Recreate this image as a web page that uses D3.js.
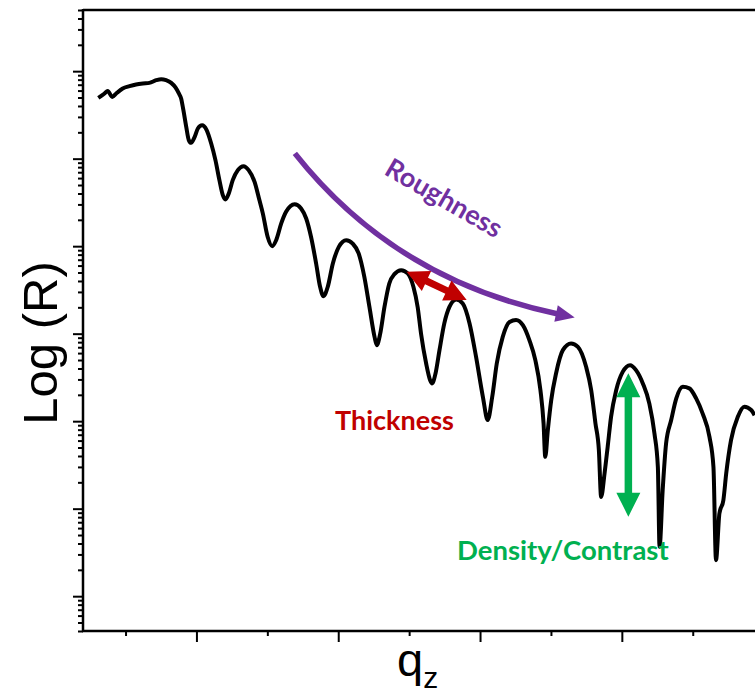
<!DOCTYPE html>
<html>
<head>
<meta charset="utf-8">
<script src="https://cdn.jsdelivr.net/npm/d3@7"></script>
<style>
  body { margin: 0; background: #fff; }
  svg { display: block; }
</style>
</head>
<body>
<div class="main_content"></div>
<script>
// reflectivity curve
const qValues = [
  0.0154, 0.0176, 0.0187, 0.0203, 0.0217, 0.0240, 0.0264, 0.0287, 0.0311, 0.0334,
  0.0358, 0.0376, 0.0393, 0.0411, 0.0426, 0.0438, 0.0446, 0.0454, 0.0464, 0.0473,
  0.0481, 0.0493, 0.0505, 0.0520, 0.0536, 0.0552, 0.0567, 0.0581, 0.0593, 0.0602,
  0.0614, 0.0628, 0.0646, 0.0666, 0.0684, 0.0705, 0.0722, 0.0734, 0.0751, 0.0767,
  0.0781, 0.0799, 0.0816, 0.0846, 0.0869, 0.0887, 0.0904, 0.0922, 0.0936, 0.0948,
  0.0963, 0.0981, 0.1002, 0.1028, 0.1051, 0.1072, 0.1092, 0.1110, 0.1128, 0.1136,
  0.1148, 0.1163, 0.1180, 0.1198, 0.1222, 0.1245, 0.1265, 0.1280, 0.1292, 0.1310,
  0.1324, 0.1331, 0.1343, 0.1357, 0.1374, 0.1392, 0.1416, 0.1439, 0.1463, 0.1486,
  0.1510, 0.1527, 0.1543, 0.1559, 0.1580, 0.1604, 0.1627, 0.1651, 0.1674, 0.1695,
  0.1713, 0.1724, 0.1730, 0.1739, 0.1751, 0.1768, 0.1792, 0.1821, 0.1845, 0.1874,
  0.1892, 0.1907, 0.1919, 0.1927, 0.1939, 0.1950, 0.1962, 0.1980, 0.2003, 0.2029,
  0.2050, 0.2074, 0.2097, 0.2115, 0.2127, 0.2133, 0.2144, 0.2156, 0.2174, 0.2192,
  0.2215, 0.2238, 0.2262, 0.2285, 0.2309, 0.2323, 0.2332, 0.2344, 0.2358, 0.2368,
  0.2385, 0.2409, 0.2432, 0.2456, 0.2468
];
const reflectivity = [
  0.495, 0.556, 0.594, 0.508, 0.556, 0.634, 0.674, 0.705, 0.724, 0.735,
  0.789, 0.810, 0.789, 0.735, 0.651, 0.556, 0.488, 0.358, 0.231, 0.163,
  0.152, 0.175, 0.221, 0.241, 0.212, 0.149, 0.0961, 0.0568, 0.0383, 0.0342,
  0.0400, 0.0568, 0.0739, 0.0820, 0.0739, 0.0543, 0.0336, 0.0237, 0.0128, 0.0100,
  0.0117, 0.0182, 0.0247, 0.0302, 0.0270, 0.0207, 0.0128, 0.00634, 0.00343, 0.00268,
  0.00343, 0.00634, 0.00982, 0.0117, 0.0107, 0.00826, 0.00446, 0.00202, 0.000919, 0.000739,
  0.00100, 0.00202, 0.00375, 0.00479, 0.00532, 0.00488, 0.00343, 0.00202, 0.00100, 0.000456,
  0.000294, 0.000270, 0.000351, 0.000648, 0.00131, 0.00202, 0.00246, 0.00221, 0.00131, 0.000543,
  0.000190, 0.000103, 0.000190, 0.000456, 0.000919, 0.00136, 0.00143, 0.00125, 0.000843, 0.000498,
  0.000226, 0.0000942, 0.0000391, 0.0000789, 0.000174, 0.000351, 0.000648, 0.000773, 0.000707, 0.000418,
  0.000226, 0.0000942, 0.0000467, 0.0000136, 0.0000252, 0.0000508, 0.000112, 0.000226, 0.000366, 0.000437,
  0.000383, 0.000270, 0.000159, 0.0000723, 0.0000301, 0.00000366, 0.0000163, 0.0000556, 0.000103, 0.000182,
  0.000247, 0.000237, 0.000182, 0.000122, 0.0000662, 0.0000301, 0.00000258, 0.00000881, 0.0000125, 0.0000252,
  0.0000607, 0.000112, 0.000146, 0.000134, 0.000117
];

// axis ticks
const xMajorTicks = [0.05, 0.10, 0.15, 0.20];
const xMinorTicks = [0.025, 0.075, 0.125, 0.175, 0.225];

// annotation anchors in data units [q, R]
const roughnessArrow = [[0.0847, 0.115], [0.1200, 0.00411], [0.1775, 0.00168]];
const thicknessArrow = [[0.1241, 0.00511], [0.1453, 0.00243]];
const contrastArrow = [[0.2023, 0.000353], [0.2023, 0.0000081]];

const width = 755, height = 695;
const margin = {top: 10, left: 83, bottom: 64};

const svg = d3.select('.main_content').append('svg')
    .attr('width', width)
    .attr('height', height);

const x = d3.scaleLinear()
    .domain([0.01, 0.25])
    .range([margin.left, margin.left + 0.24 * 2836]);

const y = d3.scaleLog()
    .domain([5, 4e-7])
    .range([margin.top, height - margin.bottom]);

const plotBottom = height - margin.bottom;
const plotRight = x(0.25);

// frame: top edge
svg.append('line')
    .attr('x1', margin.left).attr('x2', plotRight)
    .attr('y1', margin.top).attr('y2', margin.top)
    .attr('stroke', '#000').attr('stroke-width', 2.5);

// y axis (log) with majors and minors
const allY = y.ticks();
const yMajor = allY.filter(d => Math.abs(Math.log10(d) - Math.round(Math.log10(d))) < 1e-6);
const yMinor = allY.filter(d => !yMajor.includes(d));

function styleAxis(g) {
    g.select('.domain').remove();
    g.selectAll('.tick line').attr('stroke', '#000').attr('stroke-width', 2);
    g.selectAll('.tick text').remove();
}

svg.append('g')
    .attr('transform', `translate(${margin.left},0)`)
    .call(d3.axisLeft(y).tickValues(yMinor).tickSize(5).tickFormat(''))
    .call(styleAxis);
svg.append('g')
    .attr('transform', `translate(${margin.left},0)`)
    .call(d3.axisLeft(y).tickValues(yMajor).tickSize(10).tickFormat(''))
    .call(styleAxis);

svg.append('g')
    .attr('transform', `translate(0,${plotBottom})`)
    .call(d3.axisBottom(x).tickValues(xMinorTicks).tickSize(5).tickFormat(''))
    .call(styleAxis);
svg.append('g')
    .attr('transform', `translate(0,${plotBottom})`)
    .call(d3.axisBottom(x).tickValues(xMajorTicks).tickSize(11).tickFormat(''))
    .call(styleAxis);

// axis lines
svg.append('line')
    .attr('x1', margin.left).attr('x2', margin.left)
    .attr('y1', margin.top - 1).attr('y2', plotBottom + 1)
    .attr('stroke', '#000').attr('stroke-width', 2.5);
svg.append('line')
    .attr('x1', margin.left - 1).attr('x2', plotRight)
    .attr('y1', plotBottom).attr('y2', plotBottom)
    .attr('stroke', '#000').attr('stroke-width', 2.5);

// the reflectivity curve
const points = qValues.map((q, i) => [q, reflectivity[i]]);
const line = d3.line()
    .x(d => x(d[0]))
    .y(d => y(d[1]))
    .curve(d3.curveMonotoneX);

svg.append('path')
    .datum(points)
    .attr('d', line)
    .attr('fill', 'none')
    .attr('stroke', '#000')
    .attr('stroke-width', 4)
    .attr('stroke-linejoin', 'round');

// axis titles
svg.append('text')
    .attr('transform', 'translate(57,343) rotate(-90)')
    .attr('text-anchor', 'middle')
    .style('font-family', '"Liberation Sans", Arial, sans-serif')
    .style('font-size', '49px')
    .text('Log (R)');

const qLabel = svg.append('text')
    .attr('x', 397).attr('y', 676)
    .style('font-family', '"Liberation Sans", Arial, sans-serif')
    .style('font-size', '47px');
qLabel.append('tspan').text('q');
qLabel.append('tspan').attr('dy', 12).style('font-size', '30px').text('z');

// annotation helpers
function doubleArrow(p1, p2, shaft, headL, headW, color) {
    const [x1, y1] = p1, [x2, y2] = p2;
    const len = Math.hypot(x2 - x1, y2 - y1);
    const ux = (x2 - x1) / len, uy = (y2 - y1) / len;
    const nx = -uy, ny = ux;
    const pt = (a, b) => [x1 + ux * a + nx * b, y1 + uy * a + ny * b];
    const poly = [
        pt(0, 0),
        pt(headL, headW / 2),
        pt(headL, shaft / 2),
        pt(len - headL, shaft / 2),
        pt(len - headL, headW / 2),
        pt(len, 0),
        pt(len - headL, -headW / 2),
        pt(len - headL, -shaft / 2),
        pt(headL, -shaft / 2),
        pt(headL, -headW / 2)
    ];
    svg.append('polygon')
        .attr('points', poly.map(p => p.join(',')).join(' '))
        .attr('fill', color);
}

// roughness: curved arrow
const purple = '#7030A0';
const rp = roughnessArrow.map(d => [x(d[0]), y(d[1])]);
svg.append('path')
    .attr('d', `M${rp[0][0]},${rp[0][1]} Q${rp[1][0]},${rp[1][1]} ${rp[2][0]},${rp[2][1]}`)
    .attr('fill', 'none')
    .attr('stroke', purple)
    .attr('stroke-width', 5.5);
{
    const dx = rp[2][0] - rp[1][0], dy = rp[2][1] - rp[1][1];
    const l = Math.hypot(dx, dy), ux = dx / l, uy = dy / l;
    const bx = rp[2][0] - ux * 2, by = rp[2][1] - uy * 2;
    const tip = [bx + ux * 19, by + uy * 19];
    const a = [bx - uy * 8.5, by + ux * 8.5], b = [bx + uy * 8.5, by - ux * 8.5];
    svg.append('polygon')
        .attr('points', [tip, a, b].map(p => p.join(',')).join(' '))
        .attr('fill', purple);
}
svg.append('text')
    .attr('transform', 'translate(444,198) rotate(30)')
    .attr('text-anchor', 'middle')
    .attr('dy', '0.35em')
    .attr('fill', purple)
    .style('font-family', 'Lato, "Open Sans", sans-serif')
    .style('font-weight', 'bold')
    .style('font-size', '27px')
    .text('Roughness');

// thickness
const red = '#C00000';
doubleArrow(
    [x(thicknessArrow[0][0]), y(thicknessArrow[0][1])],
    [x(thicknessArrow[1][0]), y(thicknessArrow[1][1])],
    7, 22, 22, red);
svg.append('text')
    .attr('x', 335).attr('y', 430)
    .attr('fill', red)
    .style('font-family', 'Lato, "Open Sans", sans-serif')
    .style('font-weight', 'bold')
    .style('font-size', '27px')
    .text('Thickness');

// density / contrast
const green = '#00B050';
doubleArrow(
    [x(contrastArrow[0][0]), y(contrastArrow[0][1])],
    [x(contrastArrow[1][0]), y(contrastArrow[1][1])],
    7.5, 24, 24, green);
svg.append('text')
    .attr('x', 457).attr('y', 560)
    .attr('fill', green)
    .style('font-family', 'Lato, "Open Sans", sans-serif')
    .style('font-weight', 'bold')
    .style('font-size', '27.5px')
    .text('Density/Contrast');
</script>
</body>
</html>
